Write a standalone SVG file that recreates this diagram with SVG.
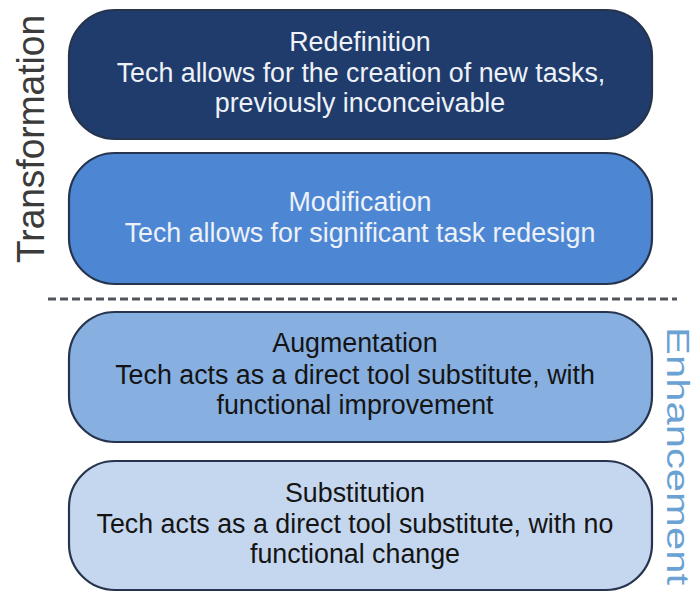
<svg xmlns="http://www.w3.org/2000/svg" width="697" height="592" viewBox="0 0 697 592">
  <style>
    .box { stroke: #26344d; stroke-width: 2.2; }
    .t { font-family: "Liberation Sans", Arial, Helvetica, sans-serif; font-size: 26.8px; text-anchor: middle; }
    .light { fill: #eef2f8; }
    .dark { fill: #141414; }
    .side { font-family: "Liberation Sans", Arial, Helvetica, sans-serif; text-anchor: middle; }
  </style>
  <rect width="697" height="592" fill="#ffffff"/>

  <!-- level divider -->
  <g id="connectors">
    <line x1="48" y1="299" x2="677" y2="299" stroke="#50555c" stroke-width="3" stroke-dasharray="8 4"/>
  </g>

  <g id="redefinition">
    <rect class="box" x="69" y="10" width="583" height="129" rx="46" ry="46" fill="#1f3c6c"/>
    <text class="t light" x="360" y="51">Redefinition</text>
    <text class="t light" x="361" y="82">Tech allows for the creation of new tasks,</text>
    <text class="t light" x="360" y="112">previously inconceivable</text>
  </g>

  <g id="modification">
    <rect class="box" x="69" y="153" width="583" height="131" rx="46" ry="46" fill="#4d87d4"/>
    <text class="t light" x="360" y="211">Modification</text>
    <text class="t light" x="360" y="242">Tech allows for significant task redesign</text>
  </g>

  <g id="augmentation">
    <rect class="box" x="69" y="312" width="583" height="130" rx="46" ry="46" fill="#87afe0"/>
    <text class="t dark" x="355" y="352">Augmentation</text>
    <text class="t dark" x="355" y="384">Tech acts as a direct tool substitute, with</text>
    <text class="t dark" x="355" y="414">functional improvement</text>
  </g>

  <g id="substitution">
    <rect class="box" x="69" y="461" width="583" height="129" rx="46" ry="46" fill="#c5d7ee"/>
    <text class="t dark" x="355" y="502">Substitution</text>
    <text class="t dark" x="355" y="533">Tech acts as a direct tool substitute, with no</text>
    <text class="t dark" x="355" y="563">functional change</text>
  </g>

  <!-- side labels -->
  <g id="transformation-label">
    <text class="side" transform="translate(44,139) rotate(-90)" font-size="38" fill="#3b3b3b" textLength="248" lengthAdjust="spacingAndGlyphs">Transformation</text>
  </g>
  <g id="enhancement-label">
    <text class="side" transform="translate(667,456) rotate(90)" font-size="32" fill="#6aa2d4" textLength="258" lengthAdjust="spacingAndGlyphs">Enhancement</text>
  </g>
</svg>
